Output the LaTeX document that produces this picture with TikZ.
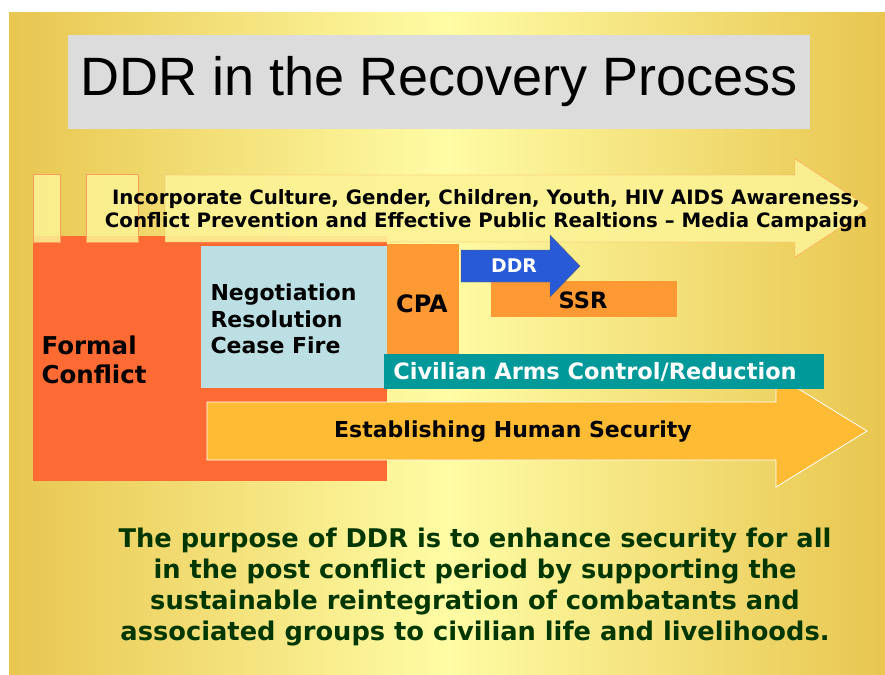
\documentclass[tikz,border=0pt]{standalone}
\usepackage{fontspec}
\setmainfont{DejaVu Sans}
\newfontfamily\titlefont{Liberation Sans}
\usetikzlibrary{calc}

\definecolor{gold}{RGB}{232,198,80}
\definecolor{pale}{RGB}{255,252,165}
\definecolor{titlegray}{RGB}{220,220,220}
\definecolor{conflict}{RGB}{255,107,51}
\definecolor{talks}{RGB}{187,223,227}
\definecolor{cpaorange}{RGB}{255,153,51}
\definecolor{stripe}{RGB}{252,243,150}
\definecolor{stripeline}{RGB}{255,160,90}
\definecolor{ddrblue}{RGB}{40,90,215}
\definecolor{armsteal}{RGB}{0,153,153}
\definecolor{security}{RGB}{255,187,51}
\definecolor{purpose}{RGB}{0,55,0}

\begin{document}
\begin{tikzpicture}[x=1pt,y=-1pt]
            % Frame and background
            \useasboundingbox (0,0) rectangle (885,674);
            \fill[white] (0,0) rectangle (885,674);
            \shade[left color=gold, right color=gold, middle color=pale] (9,13) rectangle (885,674);

            % Title
            \fill[titlegray] (68,35) rectangle (810,129);
            \node (title) at (439,82) {\titlefont\fontsize{54}{60}\selectfont DDR in the Recovery Process};

            % Formal conflict block
            \fill[conflict] (33,236) rectangle (387,481);

            % Striped arrow across the top
            \draw[stripeline, fill=stripe, fill opacity=0.85] (33,174) rectangle (60,242);
            \draw[stripeline, fill=stripe, fill opacity=0.85] (86,174) rectangle (138,242);
            \draw[stripeline, fill=stripe, fill opacity=0.9]
                (165,175) -- (795,175) -- (795,159) -- (870,208) -- (795,257) -- (795,242) -- (165,242) -- cycle;
            \node[align=center, font=\bfseries\fontsize{19.8}{23}\selectfont] (incorporate) at (486,211)
                {Incorporate Culture, Gender, Children, Youth, HIV AIDS Awareness,\\
                 Conflict Prevention and Effective Public Realtions -- Media Campaign};

            % Negotiation and CPA boxes
            \fill[talks] (201,246) rectangle (387,388);
            \fill[cpaorange] (387,244) rectangle (459,356);
            \node[anchor=west, align=left, font=\bfseries\fontsize{22}{26.5}\selectfont] (talks) at (207,319)
                {Negotiation\\Resolution\\Cease Fire};
            \node[font=\bfseries\fontsize{24}{28}\selectfont] (cpa) at (422,304) {CPA};
            \node[anchor=west, align=left, font=\bfseries\fontsize{24.5}{29}\selectfont] (formal) at (38,360)
                {Formal\\Conflict};

            % SSR bar and DDR arrow
            \fill[cpaorange] (491,281) rectangle (677,317);
            \node[font=\bfseries\fontsize{22.5}{26}\selectfont] (ssr) at (583,300) {SSR};
            \draw[fill=ddrblue, draw=black!60]
                (461,250) -- (550,250) -- (550,235) -- (580,266) -- (550,297) -- (550,282) -- (461,282) -- cycle;
            \node[white, font=\bfseries\fontsize{18.8}{24}\selectfont] (ddr) at (514,266) {DDR};

            % Human security arrow
            \draw[white, thick, fill=security]
                (207,402) -- (776,402) -- (776,375) -- (867,431) -- (776,487) -- (776,460) -- (207,460) -- cycle;
            \node[font=\bfseries\fontsize{22}{26}\selectfont] (security) at (513,432) {Establishing Human Security};

            % Arms control bar
            \fill[armsteal] (384,354) rectangle (824,389);
            \node[white, font=\bfseries\fontsize{22.5}{26}\selectfont] (arms) at (595,372) {Civilian Arms Control/Reduction};

            % Purpose statement
            \node[purpose, align=center, font=\bfseries\fontsize{25.7}{31}\selectfont] (purpose) at (475,587)
                {The purpose of DDR is to enhance security for all\\
                 in the post conflict period by supporting the\\
                 sustainable reintegration of combatants and\\
                 associated groups to civilian life and livelihoods.};
\end{tikzpicture}
\end{document}
